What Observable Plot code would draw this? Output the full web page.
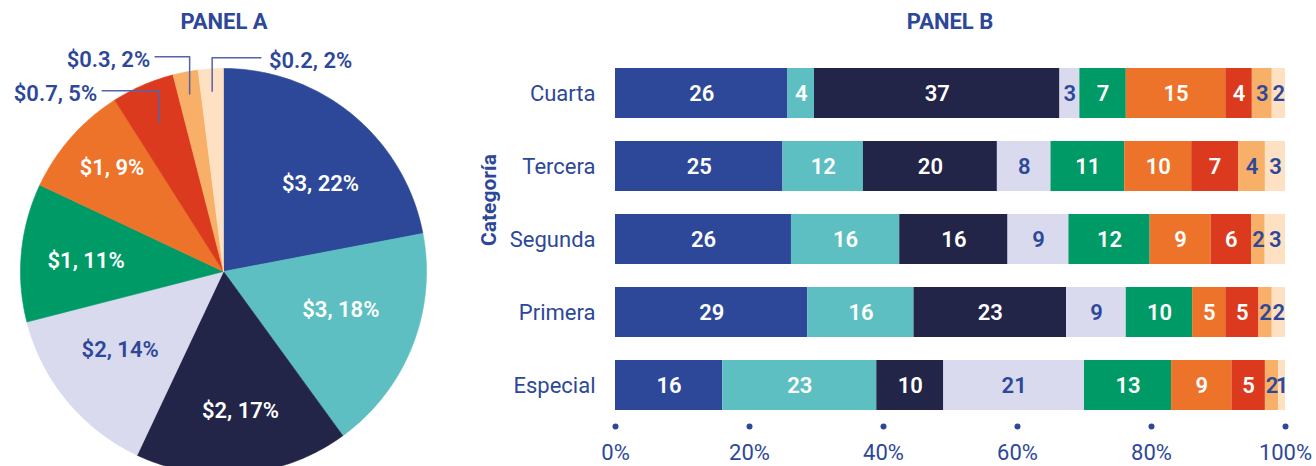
<!DOCTYPE html>
<html><head><meta charset="utf-8">
<script src="https://cdn.jsdelivr.net/npm/d3@7"></script>
<script src="https://cdn.jsdelivr.net/npm/@observablehq/plot@0.6"></script>
<style>
html,body{margin:0;padding:0;background:#fff;overflow:hidden;}
#root{position:relative;width:1316px;height:466px;font-family:Roboto,sans-serif;overflow:hidden;}
.title{position:absolute;top:9px;font-weight:700;font-size:22px;color:#2D4899;transform:translateX(-50%);white-space:nowrap;line-height:26px}
#pie{position:absolute;left:0;top:0}
#bars{position:absolute;left:460px;top:0}
#ylab{position:absolute;left:489px;top:200px;transform:translate(-50%,-50%) rotate(-90deg);font-weight:700;font-size:21px;color:#2D4899;white-space:nowrap;line-height:24px}
</style></head><body>
<div id="root">
  <div class="title" style="left:224px">PANEL A</div>
  <div class="title" style="left:950px">PANEL B</div>
  <div id="pie"></div>
  <div id="bars"></div>
  <div id="ylab">Categoría</div>
</div>
<script>
// ---------- data ----------
const seriesIds = ["S1","S2","S3","S4","S5","S6","S7","S8","S9"];
const seriesColors = ["#2D4899","#5DBFC2","#222548","#D9DAEE","#009A66","#EE732A","#DB3A1F","#F8AF67","#FEE1C2"];
const pieDollars = ["$3","$3","$2","$2","$1","$1","$0.7","$0.3","$0.2"];
const pieShares = [22,18,17,14,11,9,5,2,2];
const categories = ["Cuarta","Tercera","Segunda","Primera","Especial"];
const cuarta   = [26,4,37,3,7,15,4,3,2];
const tercera  = [25,12,20,8,11,10,7,4,3];
const segunda  = [26,16,16,9,12,9,6,2,3];
const primera  = [29,16,23,9,10,5,5,2,2];
const especial = [16,23,10,21,13,9,5,2,1];
const xTicks = [0,20,40,60,80,100];

// ---------- styling ----------
const BLUE = "#2D4899";
const LINE = "#5464A6";
const darkText = new Set([3,7,8]); // series drawn with blue text
const FONT = "Roboto, sans-serif";
const labelNudge = [[9,19],[-11,-12],[4,2],[3,-10],[0,2],[-8,-12]]; // px nudges for inside pie labels

// ---------- pie ----------
const total = d3.sum(pieShares);
let cum = 0;
const slices = pieShares.map((s,i) => {
  const a0 = cum/total*2*Math.PI; cum += s;
  const a1 = cum/total*2*Math.PI;
  return {i, series: seriesIds[i], a0, a1, mid:(a0+a1)/2, label:`${pieDollars[i]}, ${s}%`};
});
const piePts = slices.flatMap(sl => {
  const n = Math.max(2, Math.ceil((sl.a1-sl.a0)/(Math.PI/180)));
  const arr = [{series: sl.series, x:0, y:0}];
  for (let k=0;k<=n;k++){ const a = sl.a0+(sl.a1-sl.a0)*k/n; arr.push({series: sl.series, x:Math.sin(a), y:Math.cos(a)}); }
  arr.push({series: sl.series, x:0, y:0});
  return arr;
});
const inner = slices.filter(d => d.i < 6);
const LR = 0.68;
// callout layout for small slices: radius of anchor, height of elbow, horizontal length (in radius units)
const callout = {6:{r:0.8, h:0.89, len:-0.28}, 7:{r:0.89, h:1.058, len:-0.17}, 8:{r:0.89, h:1.053, len:0.24}};
const outer = slices.filter(d => d.i >= 6).map(d => {
  const c = callout[d.i];
  const ax = c.r*Math.sin(d.mid), ay = c.r*Math.cos(d.mid);
  return {...d, pts:[{x:ax,y:ay,k:d.i},{x:ax,y:c.h,k:d.i},{x:ax+c.len,y:c.h,k:d.i}], tx: ax+c.len, ty:c.h, side: c.len<0 ? "end":"start"};
});
const innerText = (subset, fill) => subset.map(d => Plot.text([d], {
  x: d => LR*Math.sin(d.mid), y: d => LR*Math.cos(d.mid), text: "label",
  dx: labelNudge[d.i][0], dy: labelNudge[d.i][1], fill, fontSize: 22, fontWeight: 600
}));

const pie = Plot.plot({
  width: 446, height: 466,
  marginLeft: 20, marginRight: 20, marginTop: 68, marginBottom: -8,
  style: {fontFamily: FONT, overflow: "visible"},
  x: {domain: [-1,1], axis: null},
  y: {domain: [-1,1], axis: null},
  color: {domain: seriesIds, range: seriesColors},
  marks: [
    Plot.line(piePts, {x:"x", y:"y", z:"series", fill:"series", stroke:"series", strokeWidth:0.6, curve:"linear"}),
    ...innerText(inner.filter(d=>!darkText.has(d.i)), "white"),
    ...innerText(inner.filter(d=>darkText.has(d.i)), BLUE),
    Plot.line(outer.flatMap(d=>d.pts), {x:"x", y:"y", z:"k", stroke: LINE, strokeWidth:1.5}),
    Plot.text(outer.filter(d=>d.side==="end"), {x:"tx", y:"ty", text:"label", textAnchor:"end", dx:-5, dy:3, fill:BLUE, fontSize:22, fontWeight:600}),
    Plot.text(outer.filter(d=>d.side==="start"), {x:"tx", y:"ty", text:"label", textAnchor:"start", dx:8, dy:3, fill:BLUE, fontSize:22, fontWeight:600})
  ]
});
document.getElementById("pie").append(pie);

// ---------- bars ----------
const barValues = [cuarta, tercera, segunda, primera, especial];
const rows = categories.flatMap((c,ci) => barValues[ci].map((v,si) => ({cat:c, series:seriesIds[si], si, v})));
const stackOpts = (extra) => Plot.stackX({offset:"normalize", x:"v", y:"cat", ...extra});

const bars = Plot.plot({
  width: 856, height: 466,
  marginLeft: 155, marginRight: 31, marginTop: 45, marginBottom: 33,
  style: {fontFamily: FONT},
  x: {domain: [0,1]},
  y: {domain: categories, padding: 0.315},
  color: {domain: seriesIds, range: seriesColors},
  marks: [
    Plot.barX(rows, stackOpts({fill:"series"})),
    Plot.text(rows, stackOpts({text: d => darkText.has(d.si) ? null : String(d.v), fill:"white", fontSize:22, fontWeight:600})),
    Plot.text(rows, stackOpts({text: d => darkText.has(d.si) ? String(d.v) : null, fill:BLUE, fontSize:22, fontWeight:600})),
    Plot.axisY({tickSize:0, tickPadding:20, fontSize:22, color:BLUE, label:null}),
    Plot.axisX({ticks: xTicks.map(d=>d/100), tickFormat: d3.format(".0%"), tickSize:0, tickPadding:11, fontSize:22, color:BLUE, label:null}),
    Plot.dot(xTicks.map(d=>d/100), {x: d=>d, frameAnchor:"bottom", dy:-7, r:3, fill:BLUE})
  ]
});
document.getElementById("bars").append(bars);
</script>
</body></html>
